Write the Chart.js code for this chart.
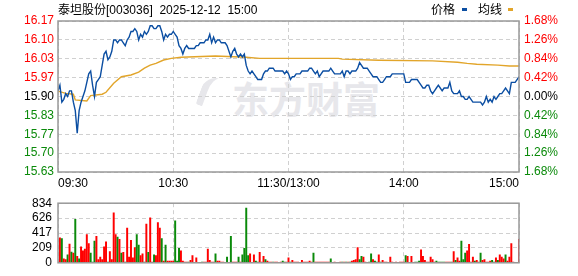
<!DOCTYPE html>
<html>
<head>
<meta charset="utf-8">
<script src="https://cdn.jsdelivr.net/npm/chart.js@4.4.1/dist/chart.umd.min.js"></script>
<style>
  html, body { margin: 0; padding: 0; background: #fff; }
  #wrap { position: relative; width: 578px; height: 276px; overflow: hidden;
          font-family: "Liberation Sans", Arial, "Noto Sans CJK SC", sans-serif; }
  canvas { position: absolute; left: 0; }
  #cPrice { top: 0; }
  #cVol { top: 190px; }
  .txt { position: absolute; font-size: 12px; line-height: 14px; color: #000; white-space: pre; }
  .mark { position: absolute; width: 5px; height: 3px; }
  #wm { position: absolute; left: 232px; top: 71px; font-size: 37px; font-weight: bold;
        color: #e7e7eb; font-family: "Noto Sans CJK SC", sans-serif; }
  #wmLogo { position: absolute; left: 200px; top: 78px; width: 22px; height: 32px;
            border-radius: 50% 10% 50% 10%; border-left: 7px solid #e7e7eb; transform: rotate(20deg); }
</style>
</head>
<body>
<div id="wrap">
  <div id="wmLogo"></div>
  <div id="wm">东方财富</div>
  <canvas id="cPrice" width="578" height="192"></canvas>
  <canvas id="cVol" width="578" height="86"></canvas>
  <div class="txt" style="left:58px;top:3px;">泰坦股份[003036]  2025-12-12  15:00</div>
  <div class="txt" style="left:431px;top:3px;">价格</div>
  <div class="mark" style="left:462px;top:8px;background:#0b4ea2;"></div>
  <div class="txt" style="left:478px;top:3px;">均线</div>
  <div class="mark" style="left:508px;top:8px;background:#e2a52a;"></div>
</div>
<script>
// 1-minute intraday, 09:30 -> 11:30 / 13:00 -> 15:00 = 241 points (index 0..240)
const prevClose = 15.90;
const span = 0.267;            // half range of price axis (= 1.68 %)
const timeTicks = [0, 60, 120, 180, 240];
const timeLabels = ["09:30", "10:30", "11:30/13:00", "14:00", "15:00"];
const volTicks = [0, 209, 417, 626, 834];

const prices = [
  15.92, 15.94, 15.88, 15.89, 15.91, 15.90, 15.92, 15.92, 15.88, 15.85,
  15.77, 15.85, 15.88, 15.90, 15.92, 15.95, 15.98, 15.99, 15.94, 15.90,
  15.95, 15.96, 15.97, 16.01, 16.05, 16.06, 16.03, 16.04, 16.06, 16.10,
  16.10, 16.09, 16.10, 16.10, 16.09, 16.08, 16.10, 16.11, 16.13, 16.13,
  16.14, 16.13, 16.10, 16.12, 16.11, 16.13, 16.12, 16.13, 16.15, 16.15,
  16.14, 16.14, 16.15, 16.15, 16.13, 16.10, 16.12, 16.11, 16.12, 16.12,
  16.13, 16.12, 16.11, 16.08, 16.07, 16.05, 16.07, 16.08, 16.07, 16.07,
  16.07, 16.07, 16.08, 16.08, 16.09, 16.09, 16.09, 16.10, 16.10, 16.12,
  16.09, 16.11, 16.09, 16.10, 16.10, 16.09, 16.09, 16.09, 16.08, 16.06,
  16.04, 16.06, 16.07, 16.05, 16.04, 16.05, 16.04, 16.05, 16.01, 15.99,
  15.98, 15.99, 15.98, 15.97, 15.96, 15.96, 15.96, 15.98, 15.99, 15.99,
  16.00, 16.00, 16.00, 15.99, 15.99, 15.99, 15.99, 15.99, 15.98, 15.99,
  15.98, 15.96, 15.97, 15.97, 15.98, 15.98, 15.98, 15.99, 15.99, 15.99,
  15.99, 16.00, 16.00, 15.99, 15.98, 15.99, 15.97, 15.98, 15.99, 15.99,
  15.99, 15.99, 16.00, 15.99, 15.98, 15.98, 15.98, 15.98, 15.99, 15.97,
  15.99, 15.99, 15.98, 15.99, 15.99, 15.99, 16.00, 16.02, 16.01, 16.00,
  16.00, 16.00, 15.99, 15.98, 15.97, 15.97, 15.97, 15.96, 15.95, 15.95,
  15.96, 15.97, 15.97, 15.97, 15.98, 15.98, 15.98, 15.98, 15.98, 15.98,
  15.98, 15.95, 15.95, 15.95, 15.96, 15.96, 15.96, 15.96, 15.95, 15.94,
  15.93, 15.93, 15.94, 15.94, 15.92, 15.91, 15.92, 15.93, 15.94, 15.93,
  15.92, 15.93, 15.93, 15.93, 15.95, 15.92, 15.91, 15.91, 15.91, 15.92,
  15.90, 15.90, 15.89, 15.89, 15.90, 15.89, 15.88, 15.88, 15.88, 15.88,
  15.88, 15.87, 15.88, 15.90, 15.88, 15.89, 15.88, 15.90, 15.89, 15.90,
  15.91, 15.91, 15.92, 15.93, 15.92, 15.91, 15.95, 15.95, 15.95, 15.96,
  15.97
];

// average-price line, read at its turning points
const avgIdx = [0, 4, 8, 9, 15, 17, 23, 25, 29, 33, 38, 42, 45, 48, 51, 55, 59,
                64, 82, 98, 105, 146, 148, 167, 195, 208, 213, 218, 229, 235, 240];
const avgVal = [15.919, 15.911, 15.908, 15.888, 15.884, 15.903, 15.908, 15.915, 15.947,
                15.970, 15.976, 15.986, 16.000, 16.011, 16.017, 16.029, 16.035,
                16.039, 16.043, 16.039, 16.035, 16.035, 16.032, 16.028, 16.026,
                16.021, 16.017, 16.014, 16.011, 16.008, 16.008];

const volumes = [
  11, 349, 338, 56, 45, 113, 263, 150, 135, 609, 90, 56, 225, 169, 192, 394, 270, 135, 11, 304,
  372, 45, 79, 45, 225, 293, 11, 158, 45, 699, 394, 361, 327, 135, 147, 11, 485, 79, 316, 68,
  214, 394, 248, 101, 124, 11, 541, 147, 631, 11, 113, 101, 564, 485, 338, 23, 248, 23, 23, 23,
  23, 586, 23, 203, 169, 23, 11, 11, 11, 34, 101, 5, 68, 5, 5, 11, 11, 11, 192, 34,
  11, 11, 124, 23, 23, 11, 11, 5, 79, 5, 372, 11, 11, 11, 79, 11, 113, 203, 766, 101,
  124, 5, 113, 23, 11, 147, 11, 90, 45, 23, 11, 11, 11, 11, 11, 5, 11, 23, 11, 11,
  68, 11, 34, 11, 11, 11, 5, 34, 11, 11, 11, 23, 11, 135, 11, 11, 11, 11, 11, 11,
  11, 11, 56, 5, 11, 5, 5, 11, 11, 11, 11, 11, 11, 23, 34, 45, 214, 45, 90, 79,
  11, 5, 11, 124, 45, 23, 11, 113, 11, 34, 11, 11, 5, 79, 11, 5, 11, 5, 11, 11,
  11, 101, 90, 5, 90, 5, 11, 11, 23, 180, 90, 34, 11, 11, 79, 45, 11, 23, 11, 11,
  11, 11, 11, 11, 11, 11, 158, 34, 68, 23, 304, 45, 135, 169, 259, 11, 79, 23, 34, 11,
  135, 34, 45, 11, 11, 23, 34, 11, 68, 34, 113, 79, 56, 113, 23, 79, 270, 11, 5, 5,
  327
];
// r = up (red), g = down (green), one letter per minute
const volSide = (
  "rrgrrgrgrgrgrrrrrggg" +
  "rrrrrrgrrrrgrgrgrrrr" +
  "rggrrgrgrrgrrrgrgrrr" +
  "rgggrrrrgrrrrrrgrrrr" +
  "rrgrrrrrgrgrrrgrgggg" +
  "rrrggrrrgrrrgrrrrggr" +
  "rgrrrrrrrrrrrgrrrrrr" +
  "rrggrrrrgrgrgrrrrggr" +
  "rrggrggrgrrrrrrrrrrr" +
  "rgrrrrgggrrrrrrrrggg" +
  "ggrrrgrgrrgggrrrrgrr" +
  "grrrrrggrgrrrgrrrrrg" +
  "r"
).split("");

const RED = "#ff0000", GREEN = "#0a8a0a", BLACK = "#000000";
const FONT = { family: "'Liberation Sans', Arial, sans-serif", size: 12 };
const GRID = "#d0d0d0";

function sideColor(v) {
  if (v > 1e-6) return RED;
  if (v < -1e-6) return GREEN;
  return BLACK;
}

const frame = {
  id: "frame",
  afterDraw(chart) {
    const { ctx, chartArea: a } = chart;
    ctx.save();
    ctx.strokeStyle = "#999";
    ctx.lineWidth = 1.5;
    ctx.strokeRect(a.left, a.top, a.right - a.left, a.bottom - a.top);
    ctx.restore();
  }
};

const priceTicks = [-4, -3, -2, -1, 0, 1, 2, 3, 4].map(k => prevClose + k * span / 4);
const pctTicks = priceTicks.map(p => (p - prevClose) / prevClose * 100);

const xTime = (showLabels) => ({
  type: "linear", min: 0, max: 240, offset: false,
  afterBuildTicks: s => { s.ticks = timeTicks.map(v => ({ value: v })); },
  afterFit: s => { s.height = showLabels ? 20 : 0; },
  grid: { color: GRID, lineWidth: 1, drawTicks: false, offset: false },
  border: { display: false, dash: [4, 3] },
  ticks: {
    display: showLabels, autoSkip: false, maxRotation: 0, align: "inner", padding: 4,
    font: FONT, color: BLACK,
    callback: v => timeLabels[timeTicks.indexOf(v)]
  }
});

new Chart(document.getElementById("cPrice"), {
  type: "line",
  data: {
    datasets: [
      { data: prices.map((p, i) => ({ x: i, y: p })), borderColor: "#0b4ea2",
        borderWidth: 1.4, pointRadius: 0, tension: 0, yAxisID: "y", order: 1 },
      { data: avgIdx.map((x, i) => ({ x, y: avgVal[i] })), borderColor: "#e2a52a",
        borderWidth: 1.4, pointRadius: 0, tension: 0, yAxisID: "y", order: 2 }
    ]
  },
  options: {
    responsive: false, animation: false,
    layout: { padding: { top: 21, left: 0, right: 0, bottom: 0 } },
    plugins: { legend: { display: false }, tooltip: { enabled: false } },
    scales: {
      x: xTime(true),
      y: {
        position: "left", min: prevClose - span, max: prevClose + span,
        afterBuildTicks: s => { s.ticks = priceTicks.map(v => ({ value: v })); },
        afterFit: s => { s.width = 58; },
        grid: { color: GRID, drawTicks: false },
        border: { display: false, dash: [4, 3] },
        ticks: {
          padding: 4, font: FONT, autoSkip: false,
          color: c => sideColor(c.tick.value - prevClose),
          callback: v => v.toFixed(2)
        }
      },
      y1: {
        position: "right", min: pctTicks[0], max: pctTicks[8],
        afterBuildTicks: s => { s.ticks = pctTicks.map(v => ({ value: v })); },
        afterFit: s => { s.width = 59; },
        grid: { display: false, drawTicks: false },
        border: { display: false },
        ticks: {
          padding: 5, font: FONT, autoSkip: false,
          color: c => sideColor(c.tick.value),
          callback: v => Math.abs(v).toFixed(2) + "%"
        }
      }
    }
  },
  plugins: [frame]
});

new Chart(document.getElementById("cVol"), {
  type: "bar",
  data: {
    datasets: [{
      data: volumes.map((v, i) => ({ x: i, y: v })),
      backgroundColor: volSide.map(s => s === "r" ? RED : GREEN),
      barThickness: 1.3, borderWidth: 0
    }]
  },
  options: {
    responsive: false, animation: false,
    layout: { padding: { top: 6, left: 0, right: 59, bottom: 6 } },
    plugins: { legend: { display: false }, tooltip: { enabled: false } },
    scales: {
      x: xTime(false),
      y: {
        position: "left", min: 0, max: 834,
        afterBuildTicks: s => { s.ticks = volTicks.map(v => ({ value: v })); },
        afterFit: s => { s.width = 58; },
        grid: { color: GRID, drawTicks: false },
        border: { display: false, dash: [4, 3] },
        ticks: { padding: 6, font: FONT, color: BLACK, autoSkip: false }
      }
    }
  },
  plugins: [frame]
});
</script>
</body>
</html>
